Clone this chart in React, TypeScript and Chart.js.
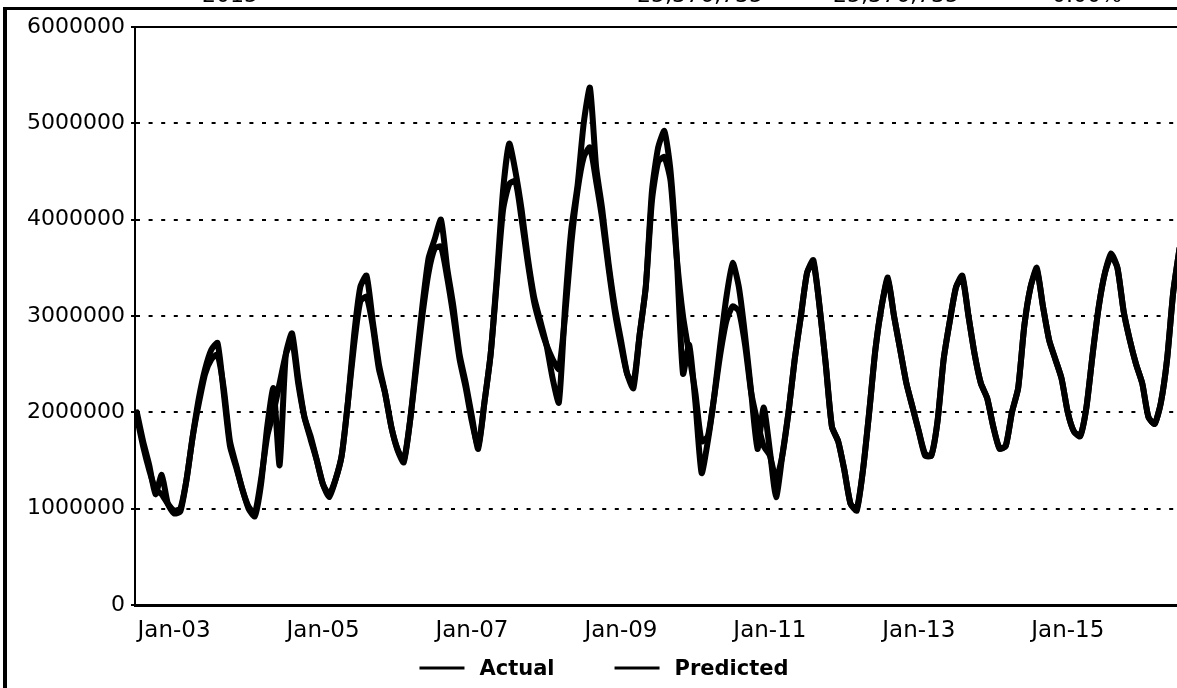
import React, { useEffect, useRef } from "react";
import { Chart, registerables } from "chart.js";

Chart.register(...registerables);

// Months are counted from Jan-03 (= 0). First point is Jul-02.
const START_MONTH = -6;

// Values in millions, one per month from Jul-02 onwards
const ACTUAL_M = [
  2.0, 1.7, 1.45, 1.15, 1.35, 1.05, 0.95, 0.97, 1.3, 1.75, 2.15, 2.45,
  2.65, 2.72, 2.2, 1.65, 1.43, 1.2, 1.0, 0.92, 1.25, 1.85, 2.25, 1.45,
  2.6, 2.82, 2.35, 1.95, 1.75, 1.5, 1.25, 1.12, 1.3, 1.55, 2.1, 2.8,
  3.3, 3.42, 2.95, 2.5, 2.2, 1.85, 1.61, 1.48, 1.9, 2.5, 3.1, 3.6,
  3.8, 4.0, 3.5, 3.1, 2.6, 2.3, 1.95, 1.62, 2.1, 2.6, 3.4, 4.3,
  4.79, 4.5, 4.1, 3.6, 3.2, 2.95, 2.7, 2.35, 2.1, 3.1, 3.9, 4.35,
  5.0, 5.37, 4.55, 4.1, 3.55, 3.1, 2.75, 2.4, 2.25, 2.8, 3.3, 4.3,
  4.75, 4.92, 4.5, 3.6, 2.4, 2.7, 2.1, 1.37, 1.7, 2.15, 2.7, 3.2,
  3.55, 3.3, 2.8, 2.2, 1.62, 2.05, 1.6, 1.12, 1.55, 2.0, 2.55, 3.0,
  3.45, 3.58, 3.1, 2.5, 1.85, 1.7, 1.4, 1.05, 0.98, 1.4, 2.0, 2.65,
  3.1, 3.4, 3.0, 2.65, 2.3, 2.05, 1.8, 1.55, 1.55, 1.9, 2.55, 2.95,
  3.3, 3.42, 3.0, 2.6, 2.3, 2.15, 1.85, 1.62, 1.65, 2.0, 2.25, 2.9,
  3.3, 3.5, 3.1, 2.75, 2.55, 2.35, 2.0, 1.8, 1.75, 2.05, 2.6, 3.1,
  3.45, 3.65, 3.5, 3.05, 2.75, 2.5, 2.3, 1.95, 1.88, 2.1, 2.55, 3.25,
  3.7,
];

const PREDICTED_M = [
  1.95, 1.65, 1.4, 1.2, 1.15, 1.05, 0.98, 1.0, 1.3, 1.75, 2.1, 2.4,
  2.55, 2.6, 2.25, 1.7, 1.45, 1.2, 1.02, 0.95, 1.3, 1.75, 2.0, 2.3,
  2.6, 2.75, 2.3, 1.95, 1.72, 1.5, 1.25, 1.15, 1.3, 1.55, 2.1, 2.7,
  3.15, 3.2, 2.9, 2.45, 2.2, 1.85, 1.62, 1.5, 1.9, 2.45, 3.0, 3.45,
  3.7, 3.72, 3.4, 3.0, 2.55, 2.25, 1.9, 1.65, 2.1, 2.6, 3.35, 4.1,
  4.37, 4.4, 4.0, 3.55, 3.15, 2.9, 2.7, 2.55, 2.45, 3.0, 3.75, 4.3,
  4.65, 4.75, 4.4, 4.0, 3.5, 3.05, 2.7, 2.4, 2.3, 2.8, 3.3, 4.2,
  4.6, 4.65, 4.4, 3.6, 3.0, 2.6, 2.2, 1.7, 1.75, 2.15, 2.6, 2.95,
  3.1, 3.05, 2.7, 2.2, 1.9, 1.65, 1.55, 1.3, 1.55, 2.0, 2.55, 3.0,
  3.45, 3.55, 3.1, 2.5, 1.85, 1.7, 1.4, 1.05, 1.0, 1.4, 2.0, 2.65,
  3.1, 3.38, 3.0, 2.65, 2.3, 2.05, 1.8, 1.57, 1.55, 1.9, 2.55, 2.95,
  3.3, 3.4, 3.0, 2.6, 2.3, 2.15, 1.85, 1.63, 1.65, 2.0, 2.25, 2.9,
  3.3, 3.48, 3.1, 2.75, 2.55, 2.35, 2.0, 1.8, 1.76, 2.05, 2.6, 3.1,
  3.45, 3.62, 3.5, 3.05, 2.75, 2.5, 2.3, 1.95, 1.88, 2.1, 2.55, 3.25,
  3.7,
];

const SERIES_LABELS = ["Actual", "Predicted"];
const X_TICK_MONTHS = [0, 24, 48, 72, 96, 120, 144];
const X_TICK_LABELS = ["Jan-03", "Jan-05", "Jan-07", "Jan-09", "Jan-11", "Jan-13", "Jan-15"];
const Y_TICKS = [0, 1000000, 2000000, 3000000, 4000000, 5000000, 6000000];
const HEADER_TEXTS = ["2015", "25,376,735", "25,376,735", "0.00%"];
const HEADER_LEFTS = [202, 637, 833, 1052];

const toPoints = (vals: number[]) =>
  vals.map((v, i) => ({ x: START_MONTH + i, y: Math.round(v * 1000000) }));

const frameAndLegend = {
  id: "frameAndLegend",
  afterDraw(chart: any) {
    const { ctx, chartArea } = chart;
    ctx.save();
    // solid top border of the plot
    ctx.strokeStyle = "#000";
    ctx.lineWidth = 2;
    ctx.beginPath();
    ctx.moveTo(chartArea.left, chartArea.top);
    ctx.lineTo(chartArea.right + 40, chartArea.top);
    ctx.stroke();

    // legend
    ctx.font = 'bold 21px "DejaVu Sans"';
    ctx.textBaseline = "alphabetic";
    ctx.textAlign = "left";
    const lineW = 45;
    const gap = 15;
    const spacing = 60;
    const items = chart.data.datasets.map((d: any) => ({
      label: d.label as string,
      color: d.borderColor as string,
    }));
    const widths = items.map((it: any) => lineW + gap + ctx.measureText(it.label).width);
    const total = widths.reduce((a: number, b: number) => a + b, 0) + spacing * (items.length - 1);
    let x = chart.width / 2 - total / 2;
    const lineY = chartArea.bottom + 63;
    const textY = chartArea.bottom + 70;
    items.forEach((it: any, i: number) => {
      ctx.strokeStyle = it.color;
      ctx.lineWidth = 3;
      ctx.beginPath();
      ctx.moveTo(x, lineY);
      ctx.lineTo(x + lineW, lineY);
      ctx.stroke();
      ctx.fillStyle = "#000";
      ctx.fillText(it.label, x + lineW + gap, textY);
      x += widths[i] + spacing;
    });
    ctx.restore();
  },
};

export default function App() {
  const ref = useRef<HTMLCanvasElement>(null);

  useEffect(() => {
    document.body.style.margin = "0";
    document.body.style.overflow = "hidden";
    const canvas = ref.current;
    if (!canvas) return;
    const lineStyle = {
      borderColor: "#000",
      backgroundColor: "#000",
      borderWidth: 6,
      borderJoinStyle: "round" as const,
      borderCapStyle: "round" as const,
      pointRadius: 0,
      tension: 0.2,
    };
    const chart = new Chart(canvas, {
      type: "line",
      data: {
        datasets: [
          { label: SERIES_LABELS[0], data: toPoints(ACTUAL_M), ...lineStyle },
          { label: SERIES_LABELS[1], data: toPoints(PREDICTED_M), ...lineStyle },
        ],
      },
      options: {
        responsive: false,
        animation: false,
        devicePixelRatio: 1,
        layout: { padding: { top: 27, right: 31, bottom: 0, left: 0 } },
        plugins: {
          legend: { display: false },
          tooltip: { enabled: false },
        },
        scales: {
          x: {
            type: "linear",
            min: -6.3,
            max: 161.6,
            grid: { display: false },
            border: { display: true, color: "#000", width: 3 },
            afterBuildTicks: (scale: any) => {
              scale.ticks = X_TICK_MONTHS.map((v) => ({ value: v }));
            },
            afterFit: (scale: any) => {
              scale.height = 83;
            },
            ticks: {
              color: "#000",
              font: { family: "DejaVu Sans", size: 23 },
              padding: 4,
              maxRotation: 0,
              autoSkip: false,
              callback: (value: any) => {
                const idx = X_TICK_MONTHS.indexOf(Number(value));
                return idx >= 0 ? X_TICK_LABELS[idx] : "";
              },
            },
          },
          y: {
            type: "linear",
            min: Y_TICKS[0],
            max: Y_TICKS[Y_TICKS.length - 1],
            afterBuildTicks: (scale: any) => {
              scale.ticks = Y_TICKS.map((v) => ({ value: v }));
            },
            afterFit: (scale: any) => {
              scale.width = 135;
            },
            grid: {
              color: "#000",
              lineWidth: 2,
              drawTicks: true,
              tickLength: 4,
              tickWidth: 2,
            },
            border: { display: true, color: "#000", width: 2, dash: [4, 8.6] },
            ticks: {
              color: "#000",
              font: { family: "DejaVu Sans", size: 22 },
              padding: 6,
              callback: (value: any) => String(value),
            },
          },
        },
      },
      plugins: [frameAndLegend],
    });
    return () => chart.destroy();
  }, []);

  return (
    <div
      style={{
        position: "relative",
        width: 1177,
        height: 688,
        overflow: "hidden",
        background: "#fff",
      }}
    >
      <canvas
        ref={ref}
        width={1208}
        height={688}
        style={{ position: "absolute", left: 0, top: 0 }}
      />
      {HEADER_TEXTS.map((t, i) => (
        <div
          key={i}
          style={{
            position: "absolute",
            left: HEADER_LEFTS[i],
            top: -17,
            fontFamily: "DejaVu Sans",
            fontSize: 22,
            lineHeight: "24px",
            color: "#000",
            whiteSpace: "nowrap",
          }}
        >
          {t}
        </div>
      ))}
      <div style={{ position: "absolute", left: 3, top: 7, right: 0, height: 3, background: "#000" }} />
      <div style={{ position: "absolute", left: 3, top: 7, width: 4, bottom: 0, background: "#000" }} />
    </div>
  );
}
